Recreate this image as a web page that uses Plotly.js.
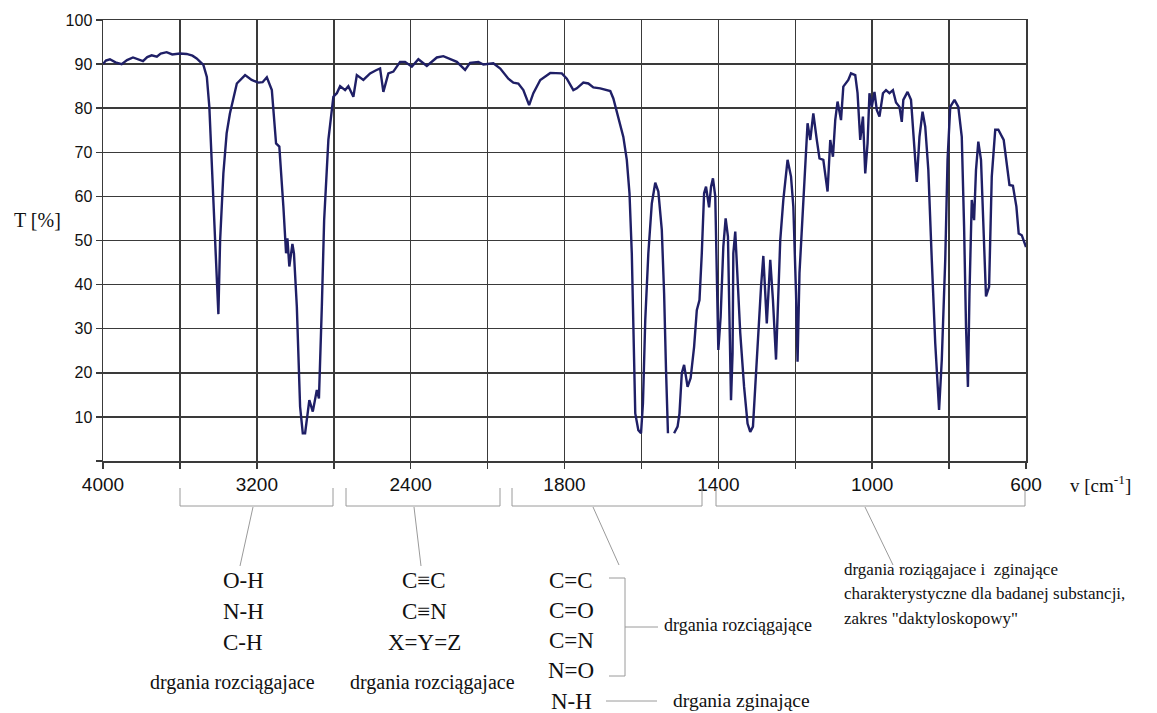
<!DOCTYPE html>
<html>
<head>
<meta charset="utf-8">
<script src="https://cdn.plot.ly/plotly-3.0.1.min.js"></script>
<style>html,body{margin:0;padding:0;background:#fff;}#chart{width:1157px;height:713px;}</style>
</head>
<body>
<div id="chart"></div>
<script>
// Wavenumbers (cm^-1)
const wavenumber = [
  4000, 3985, 3964, 3935, 3903, 3875, 3844, 3815, 3792, 3770,
  3747, 3720, 3700, 3669, 3640, 3600, 3565, 3535, 3513, 3478,
  3460, 3447, 3435, 3417, 3400, 3391, 3374, 3357, 3340, 3304,
  3261, 3227, 3192, 3170, 3148, 3122, 3100, 3083, 3062, 3048,
  3041, 3031, 3015, 3007, 2992, 2975, 2961, 2949, 2927, 2909,
  2888, 2877, 2862, 2850, 2828, 2802, 2784, 2767, 2741, 2724,
  2698, 2680, 2646, 2611, 2580, 2559, 2542, 2516, 2490, 2455,
  2429, 2394, 2360, 2316, 2264, 2230, 2160, 2117, 2091, 2048,
  2022, 1985, 1967, 1946, 1933, 1920, 1907, 1892, 1881, 1863,
  1837, 1807, 1794, 1777, 1768, 1751, 1738, 1725, 1707, 1690,
  1681, 1673, 1660, 1647, 1638, 1631, 1625, 1621, 1616, 1608,
  1601, 1596, 1590, 1582, 1573, 1564, 1556, 1547, 1541, 1536,
  1531, 1523, 1515, 1506, 1501, 1495, 1489, 1480, 1472, 1463,
  1456, 1449, 1443, 1437, 1432, 1424, 1419, 1414, 1408, 1404,
  1400, 1394, 1387, 1381, 1375, 1371, 1367, 1363, 1361, 1356,
  1352, 1343, 1333, 1324, 1317, 1310, 1304, 1296, 1289, 1283,
  1274, 1265, 1258, 1250, 1239, 1231, 1220, 1211, 1205, 1198,
  1194, 1189, 1183, 1176, 1168, 1161, 1153, 1144, 1137, 1127,
  1116, 1109, 1102, 1096, 1090, 1081, 1075, 1062, 1055, 1044,
  1038, 1031, 1024, 1018, 1012, 1007, 1001, 994, 988, 981,
  972, 964, 955, 946, 938, 929, 923, 919, 908, 899,
  891, 884, 877, 869, 862, 854, 845, 836, 826, 819,
  810, 804, 797, 786, 776, 767, 761, 756, 751, 747,
  741, 735, 730, 724, 717, 711, 704, 696, 689, 680,
  672, 658, 650, 643, 634, 625, 619, 611, 602, 600
];
// Transmittance T [%]
const transmittance = [
  90.0, 90.8, 91.1, 90.4, 90.0, 90.9, 91.5, 91.0, 90.7, 91.6,
  92.0, 91.7, 92.4, 92.7, 92.2, 92.4, 92.3, 91.9, 91.3, 89.8,
  87.1, 80.3, 66.7, 50.1, 33.3, 50.0, 65.2, 74.3, 78.8, 85.6,
  87.5, 86.4, 85.8, 85.9, 87.0, 84.1, 72.0, 71.3, 57.7, 47.1,
  50.5, 44.1, 49.2, 47.1, 35.0, 12.3, 6.3, 6.3, 13.8, 11.2,
  16.1, 14.2, 35.0, 54.6, 72.8, 82.6, 83.4, 85.0, 84.1, 85.0,
  82.6, 87.5, 86.4, 87.9, 88.6, 89.0, 83.7, 87.9, 88.3, 90.5,
  90.5, 89.4, 91.1, 89.6, 91.5, 91.8, 90.5, 88.7, 90.3, 90.5,
  89.9, 90.2, 89.0, 86.7, 85.8, 85.6, 84.1, 80.7, 83.4, 86.4,
  88.0, 87.9, 86.7, 84.1, 84.5, 85.8, 85.6, 84.7, 84.5, 84.2,
  83.9, 82.2, 78.0, 73.5, 68.3, 60.7, 47.1, 28.2, 10.8, 7.0,
  6.3, 13.1, 32.0, 47.1, 58.4, 63.1, 61.1, 52.4, 38.0, 20.6,
  6.3, null, 6.3, 7.8, 10.8, 19.9, 21.8, 16.8, 18.8, 25.9,
  34.2, 36.5, 47.1, 60.7, 62.2, 57.5, 62.2, 64.1, 60.0, 43.3,
  25.2, 32.7, 48.6, 55.0, 50.9, 32.0, 13.8, 24.4, 47.1, 52.0,
  45.6, 29.0, 16.8, 8.5, 6.6, 7.8, 16.8, 30.5, 39.5, 46.5,
  31.2, 45.6, 36.5, 23.0, 50.1, 59.2, 68.3, 64.5, 57.7, 38.0,
  22.5, 42.6, 52.4, 66.0, 76.6, 72.8, 78.8, 72.8, 68.6, 68.3,
  61.1, 72.8, 69.0, 77.3, 81.5, 77.3, 84.9, 86.4, 87.9, 87.5,
  83.4, 72.8, 78.1, 65.2, 72.0, 83.4, 80.3, 83.7, 79.6, 78.1,
  83.4, 84.1, 83.4, 84.1, 81.3, 80.3, 76.9, 81.9, 83.7, 81.9,
  72.0, 63.3, 73.5, 79.2, 75.8, 66.0, 45.6, 26.7, 11.6, 22.9,
  45.6, 68.3, 80.3, 81.9, 80.3, 73.5, 53.2, 30.5, 16.8, 38.0,
  59.2, 54.6, 66.0, 72.4, 68.3, 53.2, 37.3, 39.5, 64.5, 75.1,
  75.1, 72.8, 66.7, 62.6, 62.4, 57.7, 51.6, 51.2, 49.0, 48.5
];
// Labelled wavenumbers (scale changes at 2000 cm^-1; one grid line between labels)
const labelledWavenumbers = [4000, 3200, 2400, 1800, 1400, 1000, 600];
const yTicks = [10, 20, 30, 40, 50, 60, 70, 80, 90, 100];

// Bottom annotation texts
const groupStretchA = ['O-H', 'N-H', 'C-H'];
const groupStretchB = ['C≡C', 'C≡N', 'X=Y=Z'];
const groupDouble = ['C=C', 'C=O', 'C=N', 'N=O', 'N-H'];
const captionStretch = 'drgania rozciągajace';
const captionStretchRight = 'drgania rozciągające';
const captionBend = 'drgania zginające';
const captionFingerprint = ['drgania roziągajace i  zginające', 'charakterystyczne dla badanej substancji,', 'zakres "daktyloskopowy"'];

// Piecewise-linear axis: 400 cm^-1 per division above 2000, 200 below
function toAxis(w) {
  return w >= 2000 ? (4000 - w) / 400 : 5 + (2000 - w) / 200;
}

const xs = wavenumber.map(toAxis);

const trace = {
  x: xs, y: transmittance, type: 'scatter', mode: 'lines',
  line: {color: '#1f1f66', width: 2.4},
  connectgaps: false, hoverinfo: 'skip'
};

const L = 103, R = 1026, T = 20, B = 461;
const PX = x => (x - L) / (R - L);
const PY = y => (B - y) / (B - T);

const serif = 'Liberation Serif, Times New Roman, serif';
const annotations = [];
function label(text, x, y, size, anchor) {
  annotations.push({text: text, xref: 'paper', yref: 'paper', x: PX(x), y: PY(y),
    xanchor: anchor || 'center', yanchor: 'middle', showarrow: false,
    font: {family: serif, size: size, color: '#111'}});
}
const shapes = [];
function seg(x0, y0, x1, y1) {
  shapes.push({type: 'line', xref: 'paper', yref: 'paper', x0: PX(x0), y0: PY(y0), x1: PX(x1), y1: PY(y1),
    line: {color: '#9a9a9a', width: 1}});
}
function bracket(x0, x1) {
  seg(x0, 488, x0, 506); seg(x0, 506, x1, 506); seg(x1, 506, x1, 488);
}
bracket(180, 333); bracket(346, 500); bracket(512, 702); bracket(716, 1025);
seg(253, 507, 240, 566);
seg(414, 507, 421, 566);
seg(593, 507, 619, 565);
seg(865, 507, 893, 565);
// right bracket for double-bond group
seg(609, 578, 625, 578); seg(625, 578, 625, 676); seg(609, 676, 625, 676);
seg(625, 627, 658, 627);
seg(606, 701, 657, 701);

groupStretchA.forEach((t, i) => label(t, 243, 580 + i * 31, 23));
groupStretchB.forEach((t, i) => label(t, 424, 580 + i * 31, 23));
groupDouble.forEach((t, i) => label(t, 571, 580 + i * 30.3, 23));
label(captionStretch, 232, 682, 20);
label(captionStretch, 432, 682, 20);
label(captionStretchRight, 662, 625, 18, 'left');
label(captionBend, 671, 700, 19.5, 'left');
captionFingerprint.forEach((t, i) => label(t, 842, 569 + i * 24.5, 17, 'left'));

label('T [%]', 12, 220, 20, 'left');
label('v [cm<sup>-1</sup>]', 1068, 484, 19, 'left');

const gridStyle = {color: '#3a3a3a', width: 1.5};
const layout = {
  width: 1157, height: 713,
  margin: {l: L, r: 1157 - R, t: T, b: 713 - B, pad: 0},
  paper_bgcolor: '#fff', plot_bgcolor: '#fff',
  showlegend: false,
  xaxis: {
    range: [0, 12], tickmode: 'array',
    tickvals: labelledWavenumbers.map(toAxis),
    ticktext: labelledWavenumbers.map(String),
    showgrid: true, gridcolor: gridStyle.color, gridwidth: gridStyle.width,
    ticks: 'outside', ticklen: 6, tickwidth: 1.5, tickcolor: gridStyle.color,
    minor: {tickmode: 'linear', tick0: 0, dtick: 1, showgrid: true, gridcolor: gridStyle.color, gridwidth: gridStyle.width,
      ticks: 'outside', ticklen: 6, tickwidth: 1.5, tickcolor: gridStyle.color},
    showline: true, linecolor: gridStyle.color, linewidth: 1.5, mirror: true, zeroline: false,
    tickfont: {family: 'Liberation Sans, Arial, sans-serif', size: 19, color: '#111'}
  },
  yaxis: {
    range: [0, 100], tickmode: 'array', tickvals: yTicks,
    ticktext: yTicks.map(String),
    showgrid: true, gridcolor: gridStyle.color, gridwidth: gridStyle.width,
    ticks: 'outside', ticklen: 6, tickwidth: 1.5, tickcolor: gridStyle.color,
    minor: {tickmode: 'linear', tick0: 0, dtick: 10, showgrid: false,
      ticks: 'outside', ticklen: 6, tickwidth: 1.5, tickcolor: gridStyle.color},
    showline: true, linecolor: gridStyle.color, linewidth: 1.5, mirror: true, zeroline: false,
    tickfont: {family: 'Liberation Sans, Arial, sans-serif', size: 16, color: '#111'}
  },
  annotations: annotations,
  shapes: shapes
};

Plotly.newPlot('chart', [trace], layout, {displayModeBar: false, staticPlot: true});
</script>
</body>
</html>
